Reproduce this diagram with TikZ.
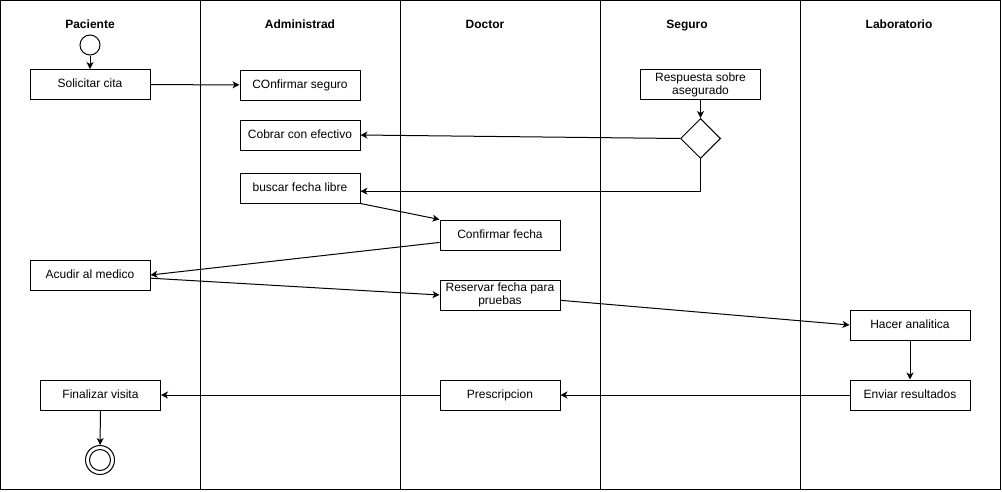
\documentclass[tikz,border=0pt]{standalone}
\usepackage{fontspec}
\setmainfont{Liberation Sans}
\usetikzlibrary{arrows.meta,shapes.geometric}

\begin{document}
\begin{tikzpicture}[x=1pt,y=-1pt,line width=1pt,
  >={Stealth[length=7pt,width=7pt,inset=2pt]},
  every node/.style={font=\fontsize{12}{14}\selectfont},
  lanehead/.style={font=\fontsize{12}{14}\selectfont\bfseries,anchor=base},
  act/.style={draw,rectangle,minimum width=120pt,minimum height=30pt,inner sep=0pt,align=center,
    font=\fontsize{12}{13}\selectfont},
  act1/.style={act,text height=8.7pt,text depth=2.6pt},
  decide/.style={draw,diamond,minimum width=40pt,minimum height=40pt,inner sep=0pt},
  flow/.style={->}]
\useasboundingbox (0,0) rectangle (1002,491);
\draw (0.5,0.5) rectangle (1000.5,489.5);
\foreach \x in {200,400,600,800}
  \draw (\x,0.5) -- (\x,489.5);
\node[lanehead] (hPac) at (90,28.5) {Paciente};
\node[lanehead] (hAdm) at (300,28.5) {Administrad};
\node[lanehead] (hDoc) at (485,28.5) {Doctor};
\node[lanehead] (hSeg) at (687,28.5) {Seguro};
\node[lanehead] (hLab) at (899,28.5) {Laboratorio};
\node[draw,circle,minimum size=20pt,inner sep=0pt] (start) at (90,45) {};
\node[act1] (solicitar) at (90,84.5) {Solicitar cita};
\node[act1] (confseg) at (300,85) {COnfirmar seguro};
\node[act1] (cobrar) at (300,135) {Cobrar con efectivo};
\node[act1] (buscar) at (300,188) {buscar fecha libre};
\node[act] (respuesta) at (700.5,84.5) {Respuesta sobre\\asegurado};
\node[decide] (dec) at (700.5,138.5) {};
\node[act1] (conffecha) at (500,235) {Confirmar fecha};
\node[act1] (acudir) at (90,275) {Acudir al medico};
\node[act] (reservar) at (500,295) {Reservar fecha para\\pruebas};
\node[act1] (hacer) at (910,325) {Hacer analitica};
\node[act1] (enviar) at (910,395) {Enviar resultados};
\node[act1] (prescr) at (500,395) {Prescripcion};
\node[act1] (finalizar) at (100.5,395) {Finalizar visita};
\node[draw,circle,minimum size=29pt,inner sep=0pt] (fin) at (100,460) {};
\node[draw,circle,minimum size=21pt,inner sep=0pt] (finin) at (100,460) {};
\draw[flow] (start) -- (solicitar);
\draw[flow] (solicitar) -- (confseg);
\draw[flow] (respuesta) -- (dec);
\draw[flow] (dec.west) -- (cobrar.east);
\draw[flow] (dec.south) |- (buscar.-3);
\draw[flow] (buscar.south east) -- (conffecha.north west);
\draw[flow] (conffecha.187) -- (acudir.east);
\draw[flow] (acudir.-3) -- (reservar.west);
\draw[flow] (reservar.-5) -- (hacer.west);
\draw[flow] (hacer) -- (enviar);
\draw[flow] (enviar) -- (prescr);
\draw[flow] (prescr) -- (finalizar);
\draw[flow] (finalizar) -- (fin);
\end{tikzpicture}
\end{document}
